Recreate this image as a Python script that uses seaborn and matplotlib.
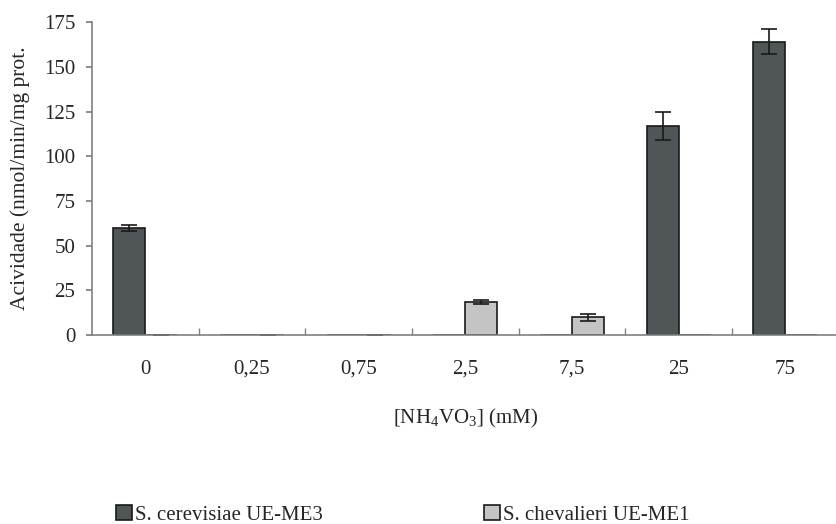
import matplotlib
matplotlib.use("Agg")
import matplotlib.pyplot as plt
import seaborn as sns
import pandas as pd
import numpy as np

categories = ["0", "0,25", "0,75", "2,5", "7,5", "25", "75"]
series_names = ["S. cerevisiae UE-ME3", "S. chevalieri UE-ME1"]
cerevisiae = [60, 0, 0, 0, 0, 117, 164]
cerevisiae_err = [1.8, 0, 0, 0, 0, 8, 7]
chevalieri = [0, 0, 0, 18.5, 10, 0, 0]
chevalieri_err = [0.2, 0.2, 0.2, 1.0, 2.0, 0, 0]

sns.set_theme(style="white")
plt.rcParams["font.family"] = ["Liberation Serif", "DejaVu Serif"]
plt.rcParams["mathtext.fontset"] = "custom"
plt.rcParams["mathtext.rm"] = "Liberation Serif"
plt.rcParams["mathtext.it"] = "Liberation Serif:italic"

df = pd.DataFrame({
    "cat": categories * 2,
    "val": cerevisiae + chevalieri,
    "series": [series_names[0]] * len(categories) + [series_names[1]] * len(categories),
})

fig = plt.figure(figsize=(8.36, 5.24), dpi=100)
ax = fig.add_axes([0.110, 0.3607, 0.893, 0.597])
palette = {series_names[0]: "#505558", series_names[1]: "#c4c4c4"}
sns.barplot(data=df, x="cat", y="val", hue="series", order=categories,
            hue_order=series_names, palette=palette, width=0.6,
            edgecolor="#1a1a1a", linewidth=1.2, saturation=1, errorbar=None, ax=ax)

# error bars at bar centres
for container, errs, vals in zip(ax.containers, [cerevisiae_err, chevalieri_err], [cerevisiae, chevalieri]):
    xs = [p.get_x() + p.get_width() / 2 for p in container.patches]
    for x, v, e in zip(xs, vals, errs):
        if e > 0:
            ax.errorbar(x, v, yerr=e, fmt="none", ecolor="#1a1a1a", elinewidth=1.2,
                        capsize=6, capthick=1.2)

ax.set_ylim(0, 175)
ax.set_xlim(-0.5, len(categories) - 0.5)
ax.set_yticks(np.arange(0, 176, 25))
ax.tick_params(axis="y", labelsize=15, length=4, color="#808080", left=True,
               direction="out", pad=8)
ax.tick_params(axis="x", labelsize=15, length=0, pad=18)
ax.set_xticks(np.arange(0.5, len(categories) - 0.5, 1), minor=True)
ax.tick_params(axis="x", which="minor", length=5, direction="in", color="#808080", bottom=True)
for s in ["top", "right"]:
    ax.spines[s].set_visible(False)
for s in ["left", "bottom"]:
    ax.spines[s].set_color("#808080")
    ax.spines[s].set_linewidth(1.2)
ax.set_ylabel("Acividade (nmol/min/mg prot.", fontsize=15.5, labelpad=10)
ax.set_xlabel("[NH$_4$VO$_3$] (mM)", fontsize=15, labelpad=20)

handles, labels = ax.get_legend_handles_labels()
ax.get_legend().remove()
fig.legend(handles, labels, loc="center left", bbox_to_anchor=(116 / 836, 1 - 515 / 524),
           ncol=2, frameon=False, fontsize=15, handlelength=0.75, handleheight=0.75,
           columnspacing=7.75, handletextpad=0.15, borderpad=0, borderaxespad=0)

fig.savefig("out.png", dpi=100)
